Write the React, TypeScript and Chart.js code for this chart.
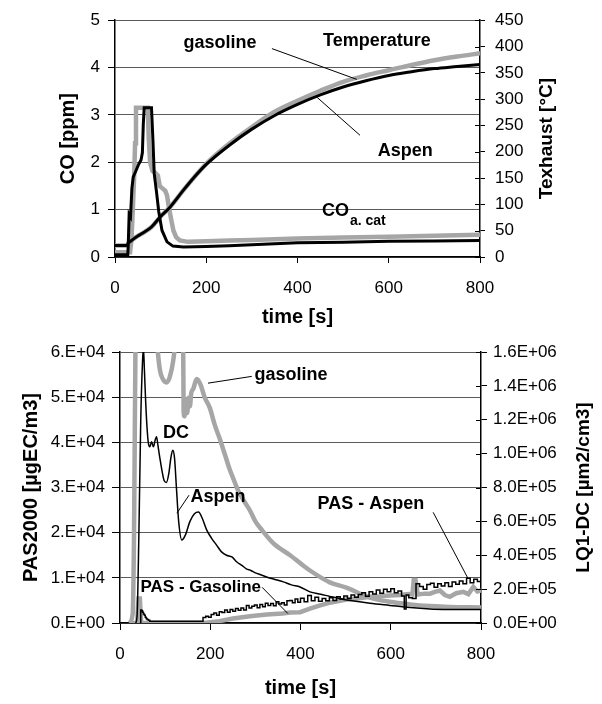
import React, { useEffect, useRef } from 'react';
import { Chart, registerables } from 'chart.js';

Chart.register(...registerables);

const FONT = "'Liberation Sans', Arial, Helvetica, sans-serif";
const GRAY = '#a6a6a6';
const BLACK = '#000000';

// ---------- Top chart: CO and exhaust temperature ----------
const tempTime = [0, 25, 30, 40, 50, 60, 80, 100, 120, 150, 175, 200, 250, 300, 350, 400, 450, 500, 550, 600, 650, 700, 750, 800];
const tempGasoline = [22, 22, 27, 34, 40, 45, 57, 77, 94, 127, 153, 177, 215, 247, 276, 297, 316, 333, 345, 355, 365, 374, 381, 387];
const tempAspen = [22, 22, 27, 34, 40, 45, 57, 77, 94, 127, 153, 176, 212, 243, 269, 290, 308, 323, 335, 345, 352, 358, 362, 366];

const coGasTime = [0, 33, 36, 39, 42, 44, 46, 72, 74, 77, 82, 88, 94, 98, 104, 110, 114, 118, 123, 128, 134, 142, 160, 200, 250, 300, 400, 500, 600, 700, 800];
const coGasoline = [0.1, 0.1, 0.35, 1.0, 1.7, 2.4, 3.15, 3.15, 2.5, 2.0, 1.82, 1.78, 1.72, 1.5, 1.45, 1.4, 1.3, 1.06, 0.8, 0.56, 0.42, 0.35, 0.32, 0.33, 0.35, 0.36, 0.39, 0.41, 0.43, 0.45, 0.47];

const coAspTime = [0, 28, 29, 31, 34, 37, 40, 45, 51, 57, 60, 62, 64, 80, 83, 86, 91, 96, 103, 114, 127, 150, 200, 250, 300, 400, 500, 600, 700, 800];
const coAspen = [0.05, 0.05, 0.25, 0.9, 0.85, 1.45, 1.69, 1.8, 1.94, 2.05, 2.2, 2.8, 3.15, 3.15, 2.5, 1.76, 1.37, 0.95, 0.56, 0.32, 0.23, 0.21, 0.22, 0.24, 0.26, 0.3, 0.31, 0.33, 0.34, 0.35];

// ---------- Bottom chart: PAS2000 and LQ1-DC ----------
const dcGasTime = [20, 28, 31, 33, 36, 75, 81, 88, 95, 103,
  110, 118, 126, 133, 139, 141, 143, 146, 149, 152,
  155, 158, 162, 170, 178, 188, 199, 210, 222, 233,
  244, 253, 262, 275, 288, 300, 315, 340, 377, 400,
  421, 465, 500, 554, 598, 643, 687, 731, 800];
const dcGasoline = [0, 0.05e6, 0.5e6, 1.2e6, 2.0e6, 2.0e6, 1.7e6, 1.5e6, 1.44e6, 1.42e6,
  1.45e6, 1.55e6, 1.75e6, 2.0e6, 2.0e6, 1.25e6, 1.22e6, 1.32e6, 1.24e6, 1.33e6,
  1.28e6, 1.36e6, 1.38e6, 1.44e6, 1.41e6, 1.33e6, 1.27e6, 1.17e6, 1.08e6, 0.99e6,
  0.9e6, 0.84e6, 0.78e6, 0.72e6, 0.664e6, 0.6e6, 0.547e6, 0.47e6, 0.4e6, 0.352e6,
  0.31e6, 0.24e6, 0.21e6, 0.15e6, 0.125e6, 0.11e6, 0.1e6, 0.094e6, 0.092e6];

const dcAspTime = [35, 38, 42, 46, 50, 52, 54, 57, 60, 63,
  66, 70, 74, 78, 81, 84, 88, 93, 98, 103,
  108, 113, 117, 121, 125, 130, 137, 145, 155, 165,
  174, 182, 192, 203, 214, 225, 236, 248, 259, 270,
  280, 290, 300, 312, 325, 340, 362, 380, 399, 421,
  445, 465, 490, 510, 554, 598, 643, 687, 731, 800];
const dcAspen = [0, 0.05e6, 0.55e6, 1.2e6, 1.55e6, 1.62e6, 1.5e6, 1.3e6, 1.15e6, 1.06e6,
  1.04e6, 1.07e6, 1.04e6, 1.08e6, 1.1e6, 1.05e6, 0.98e6, 0.9e6, 0.84e6, 0.83e6,
  0.88e6, 0.98e6, 1.02e6, 0.97e6, 0.8e6, 0.6e6, 0.49e6, 0.52e6, 0.6e6, 0.645e6,
  0.655e6, 0.62e6, 0.55e6, 0.5e6, 0.46e6, 0.42e6, 0.4e6, 0.39e6, 0.36e6, 0.34e6,
  0.32e6, 0.31e6, 0.296e6, 0.285e6, 0.272e6, 0.26e6, 0.243e6, 0.225e6, 0.213e6, 0.184e6,
  0.17e6, 0.157e6, 0.142e6, 0.133e6, 0.117e6, 0.104e6, 0.091e6, 0.083e6, 0.08e6, 0.079e6];

const pasGasTime = [20, 38, 41, 44, 47, 185, 220, 250, 288, 325,
  360, 377, 399, 421, 440, 465, 502, 530, 554, 576,
  598, 620, 640, 648, 651, 655, 660, 675, 687, 698,
  709, 720, 731, 745, 761, 772, 783, 792, 800];
const pasGasoline = [0, 0, 5400, 5400, 0, 0, 400, 1000, 1500, 1900,
  2100, 2300, 2400, 3200, 3800, 4500, 5200, 5500, 5800, 5900,
  6100, 6200, 6400, 6300, 9500, 9500, 6300, 6500, 6500, 6900,
  7200, 6200, 5800, 6600, 6900, 6400, 8000, 7000, 7200];

const pasAspTime = [44, 46, 48, 50, 52, 54, 56, 58, 60, 63,
  66, 72, 178, 184, 190, 196, 202, 208, 214, 220,
  226, 232, 238, 244, 250, 256, 262, 268, 274, 280,
  286, 292, 298, 304, 310, 316, 322, 328, 334, 340,
  346, 352, 358, 364, 370, 376, 382, 388, 394, 400,
  408, 416, 424, 432, 440, 448, 456, 464, 472, 480,
  488, 496, 504, 512, 520, 528, 536, 544, 552, 560,
  568, 576, 584, 592, 600, 608, 616, 624, 630, 634,
  640, 648, 656, 664, 672, 680, 688, 696, 704, 712,
  720, 728, 736, 744, 752, 760, 768, 776, 784, 792,
  800];
const pasAspen = [0, 2900, 2700, 2400, 2000, 1700, 1300, 1000, 800, 600,
  400, 400, 400, 1200, 1500, 1300, 1900, 2200, 1700, 2500,
  2300, 2900, 2400, 3000, 2600, 3200, 2800, 3300, 2900, 3900,
  3300, 3700, 4000, 3400, 4100, 3600, 4400, 3900, 4300, 3800,
  4700, 4200, 4500, 4000, 4900, 5000, 4500, 5300, 4600, 5500,
  4700, 6100, 4900, 5700, 4800, 5400, 4900, 5600, 5000, 5800,
  5300, 6000, 5400, 6200, 5700, 6300, 6700, 5900, 6900, 6400,
  7300, 6600, 7500, 6900, 7600, 6700, 7100, 6000, 3100, 6200,
  5600, 5400, 8700, 8100, 7500, 8500, 8800, 7900, 8700, 8200,
  8900, 8100, 9100, 8600, 9300, 8700, 9900, 8900, 9700, 9200,
  9800];

const pasTickLabels = ['0.E+00', '1.E+04', '2.E+04', '3.E+04', '4.E+04', '5.E+04', '6.E+04'];
const dcTickLabels = ['0.0E+00', '2.0E+05', '4.0E+05', '6.0E+05', '8.0E+05', '1.0E+06', '1.2E+06', '1.4E+06', '1.6E+06'];

// annotations in data units (x: time, y: left axis)
const topNotes = [
  { kind: 'text', text: 'gasoline', x: 230, y: 4.51, size: 18 },
  { kind: 'line', x1: 344, y1: 4.4, x2: 530, y2: 3.75 },
  { kind: 'text', text: 'Temperature', x: 574, y: 4.55, size: 18 },
  { kind: 'text', text: 'Aspen', x: 636, y: 2.23, size: 18 },
  { kind: 'line', x1: 443, y1: 3.37, x2: 537, y2: 2.57 },
  { kind: 'text', text: 'CO', x: 453.7, y: 0.964, size: 18, align: 'left' },
  { kind: 'text', text: 'a. cat', x: 515, y: 0.75, size: 14, align: 'left' },
];
const bottomNotes = [
  { kind: 'text', text: 'gasoline', x: 379, y: 54800, size: 18 },
  { kind: 'line', x1: 195, y1: 53100, x2: 292, y2: 54600 },
  { kind: 'text', text: 'DC', x: 124, y: 42000, size: 18 },
  { kind: 'text', text: 'Aspen', x: 217, y: 28000, size: 18 },
  { kind: 'line', x1: 126, y1: 24300, x2: 153, y2: 28300 },
  { kind: 'text', text: 'PAS - Gasoline', x: 179, y: 7900, size: 17 },
  { kind: 'line', x1: 315, y1: 7900, x2: 372, y2: 2100 },
  { kind: 'text', text: 'PAS - Aspen', x: 556, y: 26300, size: 18 },
  { kind: 'line', x1: 694, y1: 24500, x2: 771, y2: 9900 },
];

const zip = (xs: number[], ys: number[]) => xs.map((x, i) => ({ x, y: ys[i] }));

const notesPlugin = {
  id: 'notes',
  afterDatasetsDraw(chart: any, _args: any, opts: any) {
    const { ctx, scales, chartArea } = chart;
    const xs = scales.x;
    const ys = scales.y;
    ctx.save();
    ctx.fillStyle = '#000';
    ctx.strokeStyle = '#000';
    ctx.lineWidth = 1;
    // inward half of the crossing tick marks on the right axis
    const r = scales.y2;
    for (const t of r.ticks) {
      const py = Math.round(r.getPixelForValue(t.value)) + 0.5;
      ctx.beginPath();
      ctx.moveTo(r.left - 5, py);
      ctx.lineTo(r.left, py);
      ctx.stroke();
    }
    for (const n of opts.items || []) {
      if (n.kind === 'line') {
        ctx.beginPath();
        ctx.moveTo(xs.getPixelForValue(n.x1), ys.getPixelForValue(n.y1));
        ctx.lineTo(xs.getPixelForValue(n.x2), ys.getPixelForValue(n.y2));
        ctx.stroke();
      } else {
        ctx.font = `bold ${n.size}px ${FONT}`;
        ctx.textAlign = n.align || 'center';
        ctx.textBaseline = 'middle';
        ctx.fillText(n.text, xs.getPixelForValue(n.x), ys.getPixelForValue(n.y));
      }
    }
    if (opts.rightTitle) {
      ctx.translate(r.left + opts.rightTitle.offset, (chartArea.top + chartArea.bottom) / 2);
      ctx.rotate(-Math.PI / 2);
      ctx.font = `bold ${opts.rightTitle.size}px ${FONT}`;
      ctx.textAlign = 'center';
      ctx.textBaseline = 'middle';
      ctx.fillText(opts.rightTitle.text, 0, 0);
    }
    ctx.restore();
  },
};

function xScale(tickPad: number, axisH: number, titlePadBottom: number, tickLen: number) {
  return {
    type: 'linear',
    min: 0,
    max: 800,
    ticks: { stepSize: 200, padding: tickPad, color: '#000', font: { size: 17, family: FONT }, maxRotation: 0, autoSkip: false },
    grid: { drawOnChartArea: false, drawTicks: true, tickLength: tickLen, tickColor: '#000' },
    border: { display: true, color: '#000', width: 1.5 },
    title: { display: true, text: 'time [s]', color: '#000', font: { size: 20, weight: 'bold', family: FONT }, padding: { top: 0, bottom: titlePadBottom } },
    afterFit: (s: any) => { s.height = axisH; },
  };
}

function topConfig(): any {
  return {
    type: 'line',
    data: {
      datasets: [
        { data: zip(tempTime, tempAspen), yAxisID: 'y2', borderColor: BLACK, borderWidth: 3, tension: 0.4, cubicInterpolationMode: 'monotone' },
        { data: zip(coAspTime, coAspen), yAxisID: 'y', borderColor: BLACK, borderWidth: 3, tension: 0 },
        { data: zip(tempTime, tempGasoline), yAxisID: 'y2', borderColor: GRAY, borderWidth: 4.5, tension: 0.4, cubicInterpolationMode: 'monotone' },
        { data: zip(coGasTime, coGasoline), yAxisID: 'y', borderColor: GRAY, borderWidth: 4.5, tension: 0 },
      ],
    },
    options: {
      animation: false,
      responsive: false,
      devicePixelRatio: 1,
      layout: { padding: { top: 20, left: 0, right: 0, bottom: 0 } },
      elements: { point: { radius: 0 } },
      plugins: {
        legend: { display: false },
        tooltip: { enabled: false },
        notes: { items: topNotes, rightTitle: { text: 'Texhaust [°C]', offset: 67, size: 19 } },
      },
      scales: {
        x: xScale(15, 73, 1, 6),
        y: {
          position: 'left', min: 0, max: 5,
          ticks: { stepSize: 1, padding: 8, color: '#000', font: { size: 17, family: FONT } },
          grid: { color: '#5a5a5a', lineWidth: 1, drawTicks: true, tickLength: 7, tickColor: '#000' },
          border: { display: true, color: '#000', width: 1.5 },
          title: { display: true, text: 'CO [ppm]', color: '#000', font: { size: 20, weight: 'bold', family: FONT }, padding: { top: 56, bottom: 0 } },
          afterFit: (s: any) => { s.width = 115; },
        },
        y2: {
          position: 'right', min: 0, max: 450,
          ticks: { stepSize: 50, padding: 10, color: '#000', font: { size: 17, family: FONT } },
          grid: { drawOnChartArea: false, drawTicks: true, tickLength: 5, tickColor: '#000' },
          border: { display: true, color: '#000', width: 1.5 },
          afterFit: (s: any) => { s.width = 122; },
        },
      },
    },
    plugins: [notesPlugin],
  };
}

function bottomConfig(): any {
  return {
    type: 'line',
    data: {
      datasets: [
        { data: zip(pasAspTime, pasAspen), yAxisID: 'y', borderColor: BLACK, borderWidth: 1.5, stepped: true },
        { data: zip(dcAspTime, dcAspen), yAxisID: 'y2', borderColor: BLACK, borderWidth: 1.5, tension: 0.3, cubicInterpolationMode: 'monotone' },
        { data: zip(pasGasTime, pasGasoline), yAxisID: 'y', borderColor: GRAY, borderWidth: 4.5, tension: 0 },
        { data: zip(dcGasTime, dcGasoline), yAxisID: 'y2', borderColor: GRAY, borderWidth: 4.5, tension: 0.3, cubicInterpolationMode: 'monotone', clip: 0 },
      ],
    },
    options: {
      animation: false,
      responsive: false,
      devicePixelRatio: 1,
      layout: { padding: { top: 22, left: 0, right: 0, bottom: 0 } },
      elements: { point: { radius: 0 } },
      plugins: {
        legend: { display: false },
        tooltip: { enabled: false },
        notes: { items: bottomNotes, rightTitle: { text: 'LQ1-DC [µm2/cm3]', offset: 103, size: 19 } },
      },
      scales: {
        x: xScale(14, 81, 4, 7),
        y: {
          position: 'left', min: 0, max: 60000,
          ticks: { stepSize: 10000, padding: 7, color: '#000', font: { size: 17, family: FONT }, callback: (v: number) => pasTickLabels[Math.round(v / 10000)] },
          grid: { color: '#5a5a5a', lineWidth: 1, drawTicks: true, tickLength: 8, tickColor: '#000' },
          border: { display: true, color: '#000', width: 1.5 },
          title: { display: true, text: 'PAS2000 [µgEC/m3]', color: '#000', font: { size: 20, weight: 'bold', family: FONT }, padding: { top: 19, bottom: 0 } },
          afterFit: (s: any) => { s.width = 120; },
        },
        y2: {
          position: 'right', min: 0, max: 1600000,
          ticks: { stepSize: 200000, padding: 6, color: '#000', font: { size: 17, family: FONT }, callback: (v: number) => dcTickLabels[Math.round(v / 200000)] },
          grid: { drawOnChartArea: false, drawTicks: true, tickLength: 6, tickColor: '#000' },
          border: { display: true, color: '#000', width: 1.5 },
          afterFit: (s: any) => { s.width = 121; },
        },
      },
    },
    plugins: [notesPlugin],
  };
}

export default function App() {
  const topRef = useRef<HTMLCanvasElement>(null);
  const botRef = useRef<HTMLCanvasElement>(null);
  useEffect(() => {
    const c1 = new Chart(topRef.current as HTMLCanvasElement, topConfig());
    const c2 = new Chart(botRef.current as HTMLCanvasElement, bottomConfig());
    return () => {
      c1.destroy();
      c2.destroy();
    };
  }, []);
  return (
    <div style={{ position: 'absolute', left: 0, top: 0, width: 602, height: 704, background: '#fff' }}>
      <canvas ref={topRef} width={602} height={330} style={{ position: 'absolute', left: 0, top: 0, display: 'block' }} />
      <canvas ref={botRef} width={602} height={374} style={{ position: 'absolute', left: 0, top: 330, display: 'block' }} />
    </div>
  );
}
